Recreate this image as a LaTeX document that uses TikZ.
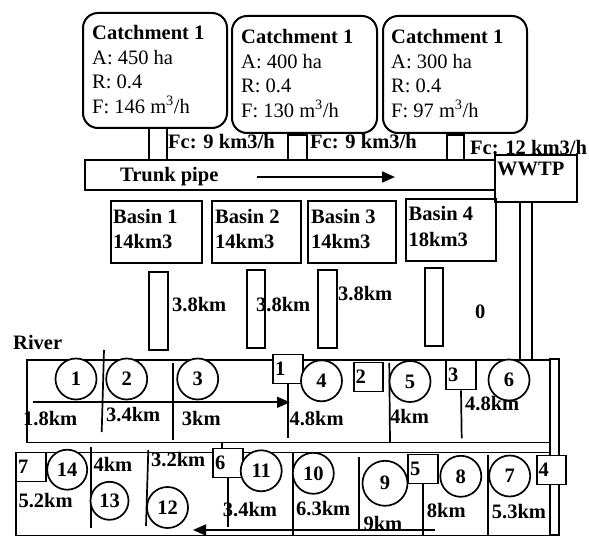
\documentclass[tikz,border=0pt]{standalone}
\usepackage{fontspec}
\setmainfont{Liberation Serif}
\usetikzlibrary{arrows.meta, positioning, fit}

\newcommand{\txtsize}{\fontsize{20.5}{24}\selectfont}
\newcommand{\catchsize}{\fontsize{20.5}{24.4}\selectfont}
\newcommand{\basinsize}{\fontsize{20.5}{25.5}\selectfont}

\begin{document}
\begin{tikzpicture}[
    x=1pt, y=-1pt,
    catch/.style={rectangle, draw=black, line width=2pt, rounded corners=15pt, inner sep=0pt},
    box/.style={rectangle, draw=black, line width=1.8pt, inner sep=0pt},
    pipe/.style={rectangle, draw=black, line width=1.7pt, inner sep=0pt},
    note/.style={inner sep=0pt, align=left, anchor=north west, font=\catchsize},
    basintxt/.style={inner sep=0pt, align=left, anchor=north west, font=\basinsize\bfseries},
    tag/.style={inner sep=0pt, anchor=base west, font=\txtsize\bfseries},
    site/.style={circle, draw=black, line width=1.7pt, fill=white, minimum size=41pt, inner sep=0pt, font=\txtsize\bfseries},
    gate/.style={rectangle, draw=black, line width=1.7pt, fill=white, minimum width=29.5pt, minimum height=29pt, text width=26pt, align=left, inner xsep=1.75pt, inner ysep=0pt, font=\txtsize\bfseries},
    divider/.style={line width=1.7pt},
    flow/.style={-{Triangle[length=13pt, width=11pt]}, line width=1.7pt}
]
\useasboundingbox (0,0) rectangle (589,537);

% Catchments
\node[catch, fit={(83,13) (227,128)}] (c1) {};
\node[catch, fit={(232,16) (377,133)}] (c2) {};
\node[catch, fit={(383,16) (527,133)}] (c3) {};
\node[note] (c1t) at (92,25.5) {\textbf{Catchment 1}\\A: 450 ha\\R: 0.4\\F: 146 m\textsuperscript{3}/h};
\node[note] (c2t) at (241,29.5) {\textbf{Catchment 1}\\A: 400 ha\\R: 0.4\\F: 130 m\textsuperscript{3}/h};
\node[note] (c3t) at (391,29.5) {\textbf{Catchment 1}\\A: 300 ha\\R: 0.4\\F: 97 m\textsuperscript{3}/h};

% Inflows to the trunk pipe
\node[pipe, fit={(149,128) (167,160)}] (k1) {};
\node[pipe, fit={(288,135) (307,160)}] (k2) {};
\node[pipe, fit={(447,135) (464,160)}] (k3) {};

% Trunk pipe and WWTP
\node[pipe, fit={(85,160) (495,190)}] (trunk) {};
\node[tag] (trunkt) at (120,182) {Trunk pipe};
\coordinate (tr0) at (257,177);
\coordinate (tr1) at (395,177);
\draw[flow] (tr0) -- (tr1);
\node[box, fit={(495,155) (577,202)}] (wwtp) {};
\node[tag] (wwtpt) at (497,176) {WWTP};
\node[pipe, fit={(520,202) (532,360)}] (outfall) {};

\node[tag] (fc1) at (168,149) {Fc: 9 km3/h};
\node[tag] (fc2) at (310,149) {Fc: 9 km3/h};
\node[tag] (fc3) at (470,155) {Fc: 12 km3/h};

% Basins
\node[box, fit={(111,201) (202,263)}] (b1) {};
\node[box, fit={(212,201) (301,263)}] (b2) {};
\node[box, fit={(308,201) (396,263)}] (b3) {};
\node[box, fit={(406,199) (496,261)}] (b4) {};
\node[basintxt] (b1t) at (113,209) {Basin 1\\14km3};
\node[basintxt] (b2t) at (215,209) {Basin 2\\14km3};
\node[basintxt] (b3t) at (311,209) {Basin 3\\14km3};
\node[basintxt] (b4t) at (408.5,206.5) {Basin 4\\18km3};

% Basin outlets
\node[pipe, fit={(149,272) (168,350)}] (p1) {};
\node[pipe, fit={(247,270) (265,348)}] (p2) {};
\node[pipe, fit={(318,270) (337,348)}] (p3) {};
\node[pipe, fit={(425,268) (443,346)}] (p4) {};
\node[tag] (p1t) at (172,312) {3.8km};
\node[tag] (p2t) at (256,312) {3.8km};
\node[tag] (p3t) at (338,300.5) {3.8km};
\node[tag] (p4t) at (475,319) {0};

% River
\node[tag] (river) at (13,349) {River};
\node[box, fit={(27,360) (550,442.5)}] (upper) {};
\node[box, fit={(16,452.5) (550,535.5)}] (lower) {};
\node[box, fit={(550,359) (559,535)}] (bend) {};

% Reaches, upper channel
\draw[divider] (104,350) -- (101.7,432);
\draw[divider] (173.3,363) -- (173.3,440);
\draw[divider] (389.3,363) -- (390,443);
\draw[divider] (221.7,442.5) -- (221.7,449);

% Reaches, lower channel
\draw[divider] (90.7,447) -- (90.7,528);
\draw[divider] (148.3,450) -- (146,526);
\draw[divider] (293.3,452.5) -- (293.3,535.5);
\draw[divider] (359.3,457) -- (359.3,530);
\draw[divider] (488.3,455) -- (488.3,535.5);

% Inflow points
\node[gate] (q1) at (288,369) {1};
\node[gate] (q2) at (368.5,377) {2};
\node[gate] (q3) at (461,375) {3};
\node[gate] (q4) at (551.5,470) {4};
\node[gate] (q5) at (423,469) {5};
\node[gate] (q6) at (228,463) {6};
\node[gate] (q7) at (31,467) {7};
\draw[divider] (q1.south) -- ++(0,54);
\draw[divider] (q3.south) -- ++(0.7,48);
\draw[divider] (q6.south) -- ++(0,49);
\draw[divider] (q5.south) -- (q5.south |- lower.south);

% Flow direction
\coordinate (up0) at (33,402.3);
\coordinate (up1) at (290,402.3);
\draw[flow] (up0) -- (up1);
\coordinate (lo0) at (435,530);
\coordinate (lo1) at (193,530);
\draw[flow] (lo0) -- (lo1);

% Sites
\node[site] (s1) at (76,379) {1};
\node[site] (s2) at (126.7,379) {2};
\node[site] (s3) at (197.7,379) {3};
\node[site] (s4) at (321.5,380.8) {4};
\node[site] (s5) at (410,381.5) {5};
\node[site] (s6) at (509,380) {6};
\node[site] (s7) at (509.7,476) {7};
\node[site] (s8) at (460.8,476.3) {8};
\node[site, minimum size=45pt] (s9) at (385,483.3) {9};
\node[site] (s10) at (313.3,473.3) {10};
\node[site] (s11) at (261.2,470.8) {11};
\node[site] (s12) at (167.5,507.5) {12};
\node[site, minimum size=38pt] (s13) at (109.5,500.8) {13};
\node[site, minimum size=40pt] (s14) at (67.2,469.7) {14};

% Reach lengths
\node[tag] (l1) at (23,425.5) {1.8km};
\node[tag] (l2) at (106,421.7) {3.4km};
\node[tag] (l3) at (181.7,425) {3km};
\node[tag] (l4) at (289.3,425) {4.8km};
\node[tag] (l5) at (390,423.3) {4km};
\node[tag] (l6) at (465,410.7) {4.8km};
\node[tag] (l7) at (491.7,518.5) {5.3km};
\node[tag] (l8) at (426.7,517) {8km};
\node[tag] (l9) at (363.3,530) {9km};
\node[tag] (l10) at (296,515) {6.3km};
\node[tag] (l11) at (222.7,516.7) {3.4km};
\node[tag] (l12) at (151,466.7) {3.2km};
\node[tag] (l13) at (93.3,471.7) {4km};
\node[tag] (l14) at (18.3,507.3) {5.2km};

\end{tikzpicture}
\end{document}
